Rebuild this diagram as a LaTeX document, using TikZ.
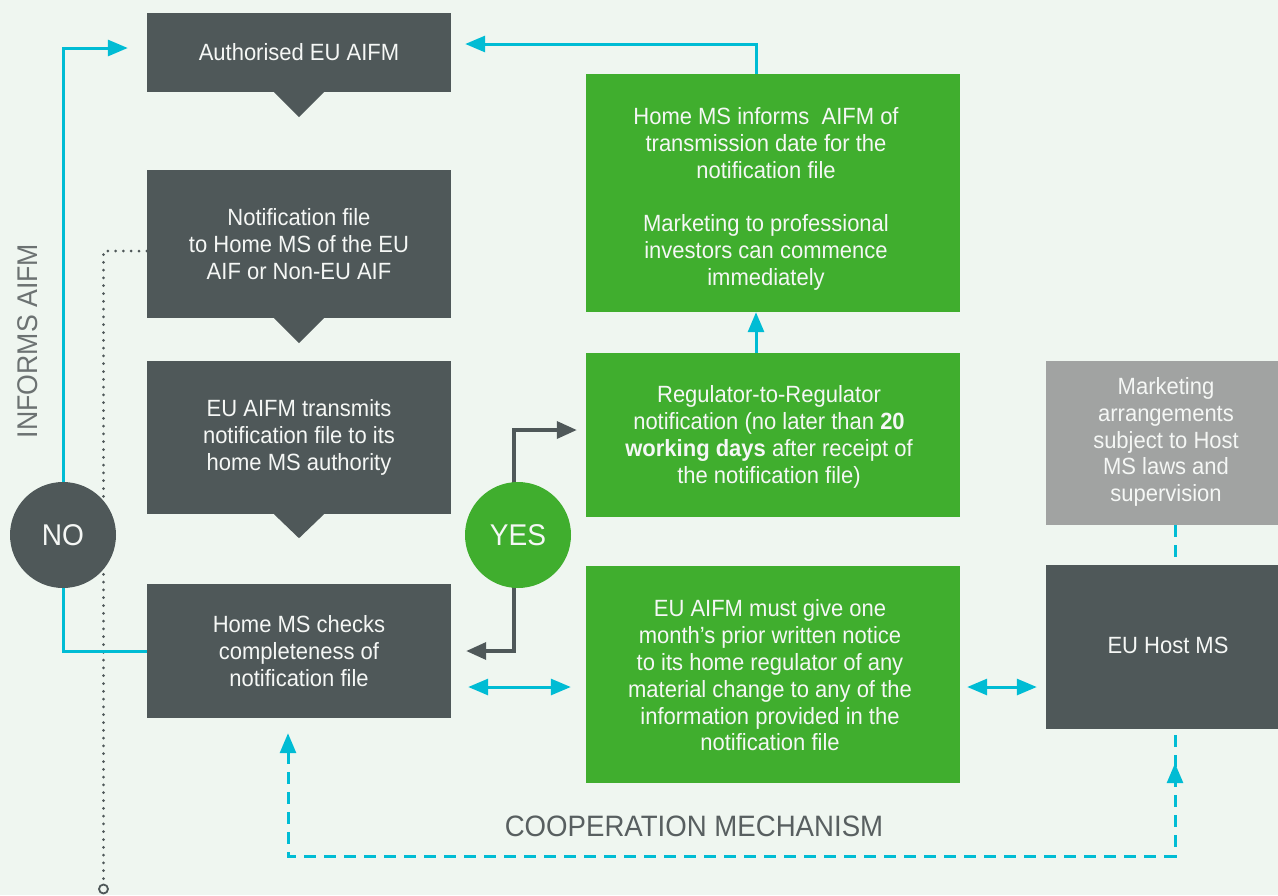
\documentclass[tikz,border=0pt]{standalone}
\usepackage{fontspec}
\setmainfont{Liberation Sans}[FakeStretch=0.936]
\usetikzlibrary{arrows.meta,calc}
\definecolor{bgc}{RGB}{239,246,240}
\definecolor{darkc}{RGB}{79,88,89}
\definecolor{greenc}{RGB}{64,174,46}
\definecolor{cyanc}{RGB}{0,188,212}
\definecolor{grayc}{RGB}{161,163,162}
\definecolor{labelc}{RGB}{108,114,114}
\definecolor{coopc}{RGB}{88,95,96}
\definecolor{txtc}{RGB}{245,247,245}
\tikzset{
 box/.style={inner sep=0pt, align=center, text=txtc, font=\fontsize{23.5}{26.8}\selectfont},
 dbox/.style={box, fill=darkc},
 gbox/.style={box, fill=greenc},
 lbox/.style={box, fill=grayc},
 cyline/.style={draw=cyanc, line width=3pt},
 cyarr/.style={cyline, -{Triangle[length=20pt,width=16pt]}},
 cydbl/.style={cyline, {Triangle[length=20pt,width=16pt]}-{Triangle[length=20pt,width=16pt]}},
 cydash/.style={cyline, dash pattern=on 12pt off 8pt},
 dkarr/.style={draw=darkc, line width=3.5pt, -{Triangle[length=20pt,width=17pt]}},
 dotline/.style={draw=darkc, line width=3pt, line cap=round, dash pattern=on 0pt off 7.8pt},
 circ/.style={circle, minimum size=106pt, inner sep=0pt, text=txtc, font=\fontsize{30}{32}\selectfont},
 pointer/.style={fill=darkc},
}
\begin{document}
\begin{tikzpicture}[x=1pt,y=-1pt]
\useasboundingbox (0,0) rectangle (1278,895);
\fill[bgc] (0,0) rectangle (1278,895);

% coordinates
\coordinate (rowA) at (0,687);
\coordinate (xL) at (288,0);
\coordinate (xR) at (1175,0);
\coordinate (botR) at (1175,856);

% boxes
\node[dbox, minimum width=304pt, minimum height=79pt] (b1) at (299,52.5) {Authorised EU AIFM};
\node[dbox, minimum width=304pt, minimum height=148pt] (b2) at (299,244) {Notification file\\to Home MS of the EU\\AIF or Non-EU AIF};
\node[dbox, minimum width=304pt, minimum height=153pt] (b3) at (299,437.5) {EU AIFM transmits\\notification file to its\\home MS authority};
\node[dbox, minimum width=304pt, minimum height=134pt] (b4) at (299,651) {Home MS checks\\completeness of\\notification file};

\fill[pointer] ([xshift=-25pt]b1.south) -- ([xshift=25pt]b1.south) -- ([yshift=-25pt]b1.south) -- cycle;
\fill[pointer] ([xshift=-25pt]b2.south) -- ([xshift=25pt]b2.south) -- ([yshift=-25pt]b2.south) -- cycle;
\fill[pointer] ([xshift=-25pt]b3.south) -- ([xshift=25pt]b3.south) -- ([yshift=-24pt]b3.south) -- cycle;

\node[gbox, minimum width=374pt, minimum height=238pt] (g1) at (773,193) {};
\node[box] (g1t) at ($(g1.center)+(-7,6)$) {Home MS informs~ AIFM of\\transmission date for the\\notification file\\[26.8pt]Marketing to professional\\investors can commence\\immediately};
\node[gbox, minimum width=374pt, minimum height=164pt] (g2) at (773,435) {};
\node[box] (g2t) at ($(g2.center)+(-4,2)$) {Regulator-to-Regulator\\notification (no later than \textbf{20}\\\textbf{working days} after receipt of\\the notification file)};
\node[gbox, minimum width=374pt, minimum height=217pt] (g3) at (773,674.5) {};
\node[box] (g3t) at ($(g3.center)+(-3,1)$) {EU AIFM must give one\\month’s prior written notice\\to its home regulator of any\\material change to any of the\\information provided in the\\notification file};

\node[lbox, minimum width=232pt, minimum height=164pt] (mk) at (1162,443) {};
\node[box] (mkt) at ($(mk.center)+(4,-1)$) {Marketing\\arrangements\\subject to Host\\MS laws and\\supervision};
\node[dbox, minimum width=232pt, minimum height=164pt] (host) at (1162,647) {};
\node[box] (hostt) at ($(host.center)+(6,-2)$) {EU Host MS};

% dotted line
\node[circle, draw=darkc, line width=1.8pt, minimum size=9pt, inner sep=0pt] (dotend) at (103.5,889) {};
\draw[dotline] ([yshift=-7pt]b2.west) -| (dotend.north);

% labels
\node[rotate=90, text=labelc, font=\fontsize{28.5}{30}\selectfont] (informs) at (28,341) {INFORMS AIFM};
\node[text=coopc, font=\fontsize{29.5}{31}\selectfont] (coop) at (694,826) {COOPERATION MECHANISM};

% NO / YES circles connectors
\coordinate (nocen) at (63,535);
\coordinate (yescen) at (514,535);
\draw[cyarr, shorten >=19pt] (nocen) |- ($(b1.west)+(0,-4.5)$);
\draw[cyline] (nocen) |- (b4.west);
\draw[dkarr, shorten >=9pt] (yescen) |- ($(g2.west)+(0,-5)$);
\draw[dkarr, shorten >=15pt] (yescen) |- (b4.east);

\node[circ, fill=darkc] (no) at (63,535) {NO};
\node[circ, fill=greenc] (yes) at (518,535) {YES};

% green flow
\draw[cyarr, shorten >=14pt] ($(g1.north)+(-17,0)$) |- ($(b1.east)+(0,-8.5)$);
\draw[cyarr] ($(g2.north)+(-17,0)$) -- ($(g1.south)+(-17,0)$);

% double arrows
\draw[cydbl, shorten <=17pt, shorten >=15pt] (b4.east |- rowA) -- (g3.west |- rowA);
\draw[cydbl, shorten <=7pt, shorten >=9pt] (g3.east |- rowA) -- (host.west |- rowA);

% dashed
\draw[cydash] (mk.south -| xR) -- (host.north -| xR);
\draw[cydash, {Triangle[length=20pt,width=16pt]}-, shorten <=15pt] (b4.south -| xL) |- (botR) -- (host.south -| xR);
\draw[cyarr] ($(host.south -| xR)+(0,54)$) -- ($(host.south -| xR)+(0,34)$);
\end{tikzpicture}
\end{document}
